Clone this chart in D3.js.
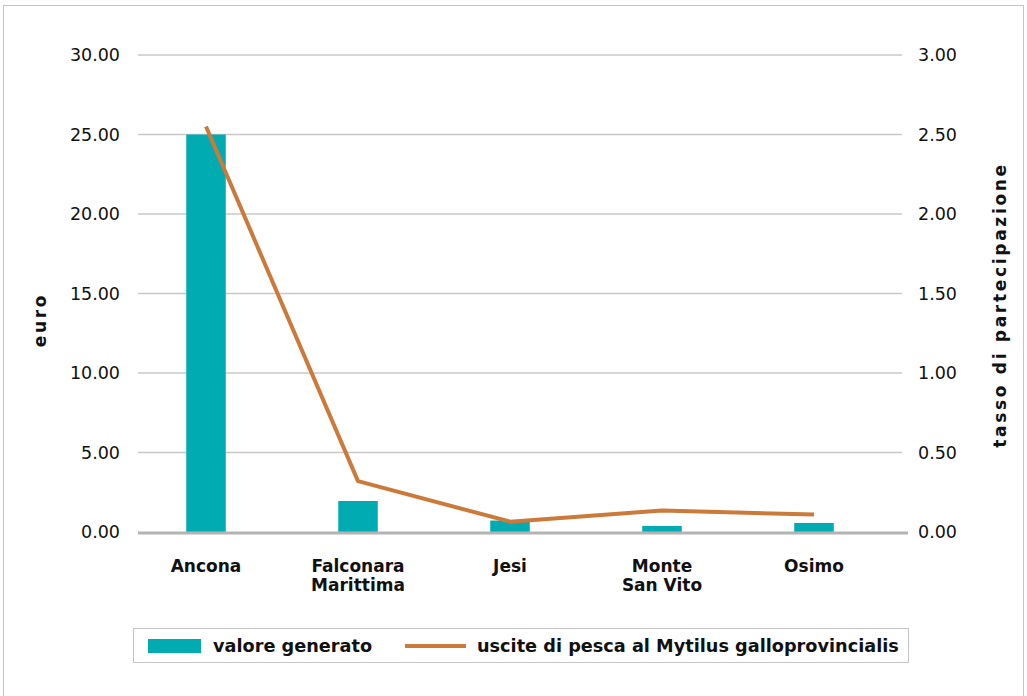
<!DOCTYPE html>
<html>
<head>
<meta charset="utf-8">
<script src="https://cdn.jsdelivr.net/npm/d3@7"></script>
<style>
  body { margin: 0; background: #fff; }
  svg { display: block; }
  .tick-label { font-family: "DejaVu Sans", sans-serif; font-size: 17.5px; fill: #111; }
  .cat-label { font-family: "DejaVu Sans", sans-serif; font-weight: bold; font-size: 17px; fill: #111; }
  .axis-title { font-family: "DejaVu Sans", sans-serif; font-weight: bold; font-size: 17px; letter-spacing: 2.7px; fill: #111; }
  .legend-text { font-family: "DejaVu Sans", sans-serif; font-weight: bold; font-size: 17.7px; fill: #111; }
</style>
</head>
<body>
<svg id="chart" width="1027" height="696"></svg>
<script>
// data
let cities = ["Ancona", "Falconara\nMarittima", "Jesi", "Monte\nSan Vito", "Osimo"];
let valoreGenerato = [25.0, 1.95, 0.72, 0.38, 0.57];
let usciteMytilus = [2.55, 0.32, 0.065, 0.135, 0.11];
let leftTicks = [0, 5, 10, 15, 20, 25, 30];
let rightTicks = [0, 0.5, 1, 1.5, 2, 2.5, 3];
let seriesNames = ["valore generato", "uscite di pesca al Mytilus galloprovincialis"];

let svg = d3.select("#chart");

// outer frame
svg.append("rect").
attr("x", 3.5).attr("y", 5.5).
attr("width", 1020).attr("height", 700).
attr("fill", "none").
attr("stroke", "#c4c4c4");

let plotLeft = 138, plotRight = 902, plotTop = 55, plotBottom = 532;

let x = d3.scaleBand().
domain(cities).
range([130, 890]).
paddingInner(0.74).
paddingOuter(0.37);

let yLeft = d3.scaleLinear().domain([0, 30]).range([plotBottom, plotTop]);
let yRight = d3.scaleLinear().domain([0, 3]).range([plotBottom, plotTop]);

// gridlines
svg.append("g").
selectAll("line").
data(leftTicks.slice(1)).
enter().
append("line").
attr("x1", plotLeft).
attr("x2", plotRight).
attr("y1", d => yLeft(d)).
attr("y2", d => yLeft(d)).
attr("stroke", "#c8c8c8").
attr("stroke-width", 1.3);

// left tick labels
svg.append("g").
selectAll("text").
data(leftTicks).
enter().
append("text").
attr("class", "tick-label").
attr("x", 120).
attr("y", d => yLeft(d)).
attr("dy", "0.35em").
attr("text-anchor", "end").
text(d => d3.format(".2f")(d));

// right tick labels
svg.append("g").
selectAll("text").
data(rightTicks).
enter().
append("text").
attr("class", "tick-label").
attr("x", 918).
attr("y", d => yRight(d)).
attr("dy", "0.35em").
text(d => d3.format(".2f")(d));

// bars
svg.append("g").
selectAll("rect").
data(valoreGenerato).
enter().
append("rect").
attr("x", (d, i) => x(cities[i])).
attr("width", x.bandwidth()).
attr("y", d => yLeft(d)).
attr("height", d => plotBottom - yLeft(d)).
attr("fill", "#00abb1");

// baseline
svg.append("line").
attr("x1", plotLeft).
attr("x2", 908).
attr("y1", plotBottom + 1).
attr("y2", plotBottom + 1).
attr("stroke", "#b3b3b3").
attr("stroke-width", 3);

// line series
let line = d3.line().
x((d, i) => x(cities[i]) + x.bandwidth() / 2).
y(d => yRight(d));

svg.append("path").
datum(usciteMytilus).
attr("d", line).
attr("fill", "none").
attr("stroke", "#cb7a3b").
attr("stroke-width", 4).
attr("stroke-linejoin", "round");

// category labels
let catLabel = svg.append("g").
selectAll("text").
data(cities).
enter().
append("text").
attr("class", "cat-label").
attr("text-anchor", "middle").
attr("x", d => x(d) + x.bandwidth() / 2).
attr("y", 572);

catLabel.selectAll("tspan").
data(d => d.split("\n")).
enter().
append("tspan").
attr("x", function () { return d3.select(this.parentNode).attr("x"); }).
attr("dy", (d, i) => i === 0 ? 0 : 19).
text(d => d);

// axis titles
svg.append("text").
attr("class", "axis-title").
attr("transform", "translate(46,320) rotate(-90)").
attr("text-anchor", "middle").
text("euro");

svg.append("text").
attr("class", "axis-title").
attr("transform", "translate(1006,305) rotate(-90)").
attr("text-anchor", "middle").
text("tasso di partecipazione");

// legend
let legend = svg.append("g");

legend.append("rect").
attr("x", 133.5).attr("y", 628.5).
attr("width", 775).attr("height", 34).
attr("fill", "#fff").
attr("stroke", "#c4c4c4");

legend.append("rect").
attr("x", 148).attr("y", 639).
attr("width", 53).attr("height", 14).
attr("fill", "#00abb1");

legend.append("text").
attr("class", "legend-text").
attr("x", 213).attr("y", 646).
attr("dy", "0.35em").
text(seriesNames[0]);

legend.append("line").
attr("x1", 405).attr("x2", 466).
attr("y1", 646).attr("y2", 646).
attr("stroke", "#cb7a3b").
attr("stroke-width", 4);

legend.append("text").
attr("class", "legend-text").
attr("x", 477).attr("y", 646).
attr("dy", "0.35em").
text(seriesNames[1]);
</script>
</body>
</html>
